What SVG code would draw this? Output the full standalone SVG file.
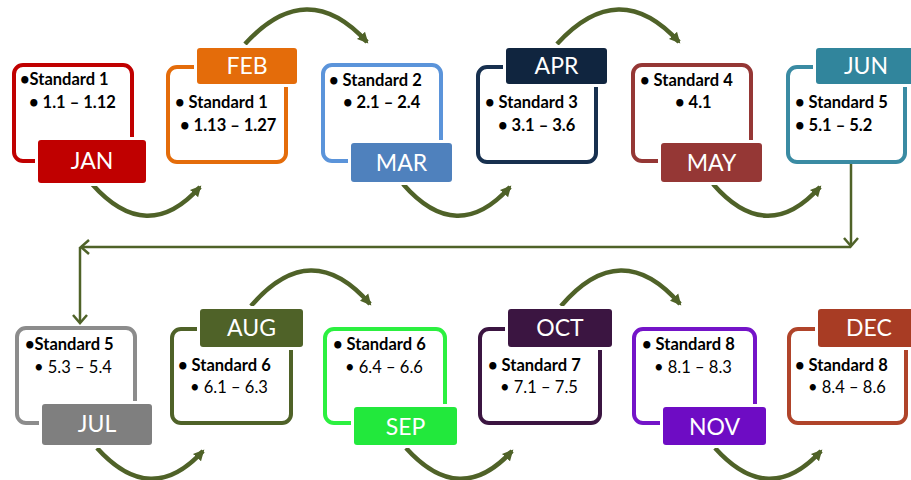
<svg xmlns="http://www.w3.org/2000/svg" width="911" height="480" viewBox="0 0 911 480">
<style>
.box{fill:#fff;stroke-width:4}
.lab{stroke:#fff;stroke-width:6;paint-order:stroke}
.lt{font-family:Lato,"Open Sans","Liberation Sans",sans-serif;font-size:23px;fill:#fff;text-anchor:middle}
.t{font-family:Lato,"Open Sans","Liberation Sans",sans-serif;font-size:16.5px;font-weight:bold;fill:#000}
.r{font-weight:normal}
.arc{fill:none;stroke:#4f6228;stroke-width:4.5;marker-end:url(#ah)}
.ln{fill:none;stroke:#4f6228;stroke-width:2.5;marker-end:url(#ch)}
</style>
<defs>
<marker id="ah" markerUnits="userSpaceOnUse" markerWidth="12" markerHeight="12" refX="9" refY="6" orient="auto"><path d="M0,0.5 L11,6 L0,11.5 z" fill="#4f6228"/></marker>
<marker id="ch" markerUnits="userSpaceOnUse" markerWidth="14" markerHeight="16" refX="9" refY="8" orient="auto"><path d="M1,1 L9,8 L1,15" fill="none" stroke="#4f6228" stroke-width="2.5"/></marker>
</defs>
<g id="connectors">
<path class="arc" d="M92,184 Q147,246 200,187"/>
<path class="arc" d="M403,184 Q457,246 510,187"/>
<path class="arc" d="M713,184 Q767,246 820,187"/>
<path class="arc" d="M245,44 Q307,-24 367,42"/>
<path class="arc" d="M557,44 Q619,-24 679,42"/>
<path class="arc" d="M97,448 Q151,508 203,451"/>
<path class="arc" d="M406,448 Q460,508 512,451"/>
<path class="arc" d="M715,448 Q769,508 821,451"/>
<path class="arc" d="M251,306 Q311,236 370,304"/>
<path class="arc" d="M561,306 Q621,236 680,304"/>
<path class="ln" d="M851,163 L851,246"/>
<path class="ln" d="M851,247 L81,247"/>
<path class="ln" d="M80,247 L80,323"/>
</g>
<g id="jan">
<rect class="box" x="14" y="65" width="118" height="96" rx="9" stroke="#c00000"/>
<text class="t" x="20" y="85">•Standard 1</text>
<text class="t" x="29" y="108">• 1.1 – 1.12</text>
<rect class="lab" x="38" y="140" width="108" height="43" rx="3" fill="#c00000"/>
<text class="lt" x="92" y="169">JAN</text>
</g>
<g id="feb">
<rect class="box" x="168" y="67" width="118" height="95" rx="9" stroke="#e46c0a"/>
<text class="t" x="175" y="108">• Standard 1</text>
<text class="t" x="180" y="131">• 1.13 – 1.27</text>
<rect class="lab" x="197" y="48" width="100" height="36" rx="3" fill="#e46c0a"/>
<text class="lt" x="247" y="74">FEB</text>
</g>
<g id="mar">
<rect class="box" x="323" y="65" width="118" height="96" rx="9" stroke="#5b94da"/>
<text class="t" x="329" y="86">• Standard 2</text>
<text class="t" x="343" y="108">• 2.1 – 2.4</text>
<rect class="lab" x="351" y="143" width="101" height="39" rx="3" fill="#4f81bd"/>
<text class="lt" x="401.5" y="171">MAR</text>
</g>
<g id="apr">
<rect class="box" x="478" y="67" width="118" height="95" rx="9" stroke="#17304f"/>
<text class="t" x="485" y="108">• Standard 3</text>
<text class="t" x="498" y="131">• 3.1 – 3.6</text>
<rect class="lab" x="506" y="48" width="101" height="36" rx="3" fill="#10253f"/>
<text class="lt" x="556.5" y="74">APR</text>
</g>
<g id="may">
<rect class="box" x="633" y="65" width="118" height="96" rx="9" stroke="#953735"/>
<text class="t" x="640" y="86">• Standard 4</text>
<text class="t" x="675" y="108">• 4.1</text>
<rect class="lab" x="661" y="143" width="101" height="39" rx="3" fill="#953735"/>
<text class="lt" x="711.5" y="171">MAY</text>
</g>
<g id="jun">
<rect class="box" x="788" y="67" width="117" height="95" rx="9" stroke="#3a8ba3"/>
<text class="t" x="795" y="108">• Standard 5</text>
<text class="t" x="795" y="131">• 5.1 – 5.2</text>
<rect class="lab" x="816" y="48" width="100" height="36" rx="3" fill="#31859c"/>
<text class="lt" x="866" y="74">JUN</text>
</g>
<g id="jul">
<rect class="box" x="17" y="328" width="118" height="95" rx="9" stroke="#8c8c8c"/>
<text class="t" x="25" y="350">•Standard 5</text>
<text class="t r" x="34" y="373">• 5.3 – 5.4</text>
<rect class="lab" x="42" y="404" width="110" height="41" rx="3" fill="#7f7f7f"/>
<text class="lt" x="97" y="432" fill="#e6e6e6">JUL</text>
</g>
<g id="aug">
<rect class="box" x="172" y="329" width="119" height="94" rx="9" stroke="#4f6228"/>
<text class="t" x="178" y="371">• Standard 6</text>
<text class="t r" x="190" y="393">• 6.1 – 6.3</text>
<rect class="lab" x="200" y="309" width="103" height="38" rx="3" fill="#4f6228"/>
<text class="lt" x="251.5" y="336">AUG</text>
</g>
<g id="sep">
<rect class="box" x="325" y="329" width="120" height="94" rx="9" stroke="#2cf040"/>
<text class="t" x="333" y="350">• Standard 6</text>
<text class="t r" x="345" y="373">• 6.4 – 6.6</text>
<rect class="lab" x="354" y="407" width="103" height="38" rx="3" fill="#22e83c"/>
<text class="lt" x="405.5" y="435">SEP</text>
</g>
<g id="oct">
<rect class="box" x="480" y="329" width="120" height="94" rx="9" stroke="#3b1541"/>
<text class="t" x="488" y="371">• Standard 7</text>
<text class="t r" x="500" y="393">• 7.1 – 7.5</text>
<rect class="lab" x="508" y="309" width="104" height="38" rx="3" fill="#3b1541"/>
<text class="lt" x="560" y="336">OCT</text>
</g>
<g id="nov">
<rect class="box" x="634" y="329" width="121" height="94" rx="9" stroke="#7414c8"/>
<text class="t" x="642" y="350">• Standard 8</text>
<text class="t r" x="654" y="373">• 8.1 – 8.3</text>
<rect class="lab" x="663" y="407" width="103" height="38" rx="3" fill="#6e0cc4"/>
<text class="lt" x="714.5" y="435">NOV</text>
</g>
<g id="dec">
<rect class="box" x="789" y="329" width="117" height="94" rx="9" stroke="#b0442a"/>
<text class="t" x="795" y="371">• Standard 8</text>
<text class="t r" x="808" y="393">• 8.4 – 8.6</text>
<rect class="lab" x="818" y="309" width="100" height="38" rx="3" fill="#a83c24"/>
<text class="lt" x="869" y="336">DEC</text>
</g>
</svg>
